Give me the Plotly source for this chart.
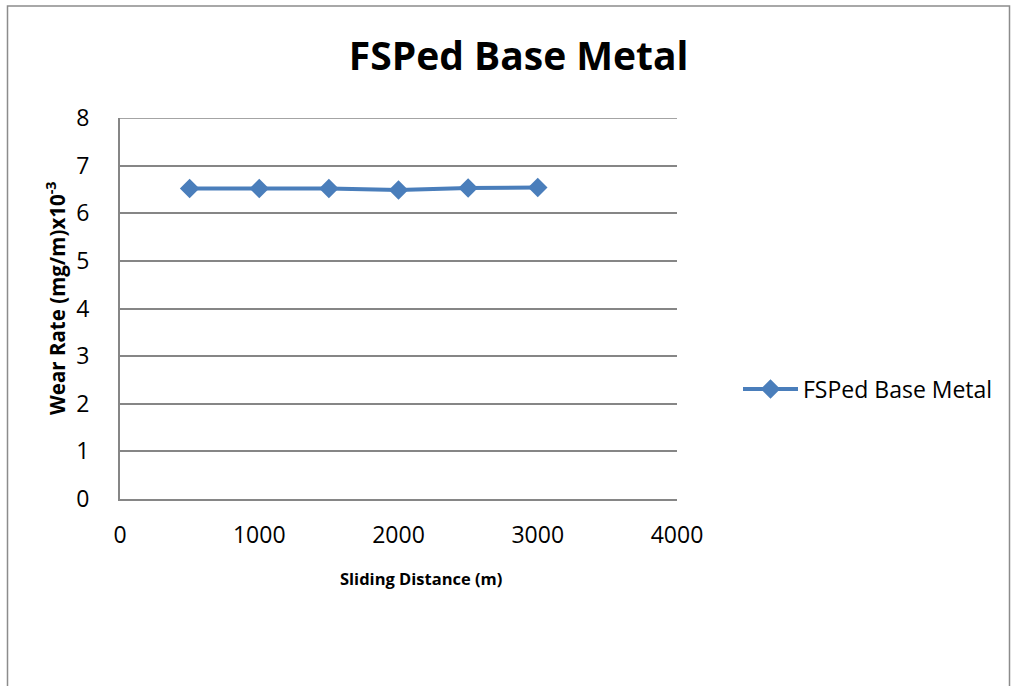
import plotly.graph_objects as go

distance = [500, 1000, 1500, 2000, 2500, 3000]
wear_rate = [6.52, 6.52, 6.52, 6.49, 6.53, 6.54]
series_name = "FSPed Base Metal"
x_ticks = [0, 1000, 2000, 3000, 4000]
y_ticks = [0, 1, 2, 3, 4, 5, 6, 7, 8]

W, H = 1011, 686
L, R, T, B = 120, 677, 118, 499
pw, ph = R - L, B - T

def px(xp):
    return (xp - L) / pw

def py(yp):
    return (B - yp) / ph

FONT = "Open Sans"
GRID = "#868686"

fig = go.Figure()
fig.add_trace(go.Scatter(
    x=distance, y=wear_rate, mode="lines+markers", name=series_name,
    line=dict(color="#4A7EBB", width=4),
    marker=dict(symbol="diamond", size=15, color="#4A7EBB"),
))

fig.update_layout(
    width=W, height=H,
    margin=dict(l=L, r=W - R, t=T, b=H - B),
    paper_bgcolor="white", plot_bgcolor="white",
    font=dict(family=FONT, color="black", size=18),
    title=dict(text="<b>FSPed Base Metal</b>", x=0.513, xref="container", xanchor="center",
               y=1 - 56 / H, yref="container", yanchor="middle",
               font=dict(size=39, family=FONT, color="black")),
    showlegend=True,
    legend=dict(x=px(738), y=py(389), xanchor="left", yanchor="middle", itemwidth=55,
                font=dict(size=23, family=FONT), bgcolor="rgba(0,0,0,0)"),
    xaxis=dict(range=[min(x_ticks), max(x_ticks)], tickvals=x_ticks, showgrid=False, zeroline=False,
               showline=True, linecolor=GRID, linewidth=2, ticks="",
               tickfont=dict(size=23), ticklabelstandoff=14),
    yaxis=dict(range=[min(y_ticks), max(y_ticks)], tickvals=y_ticks, showgrid=True, gridcolor=GRID, gridwidth=1.5,
               zeroline=False, showline=True, linecolor=GRID, linewidth=2, ticks="",
               tickfont=dict(size=23), ticklabelstandoff=24),
)

# top gridline at the upper end of the value axis
fig.add_shape(type="line", xref="paper", yref="y", x0=0, x1=1,
              y0=max(y_ticks), y1=max(y_ticks), line=dict(color=GRID, width=1.5))

# axis titles
fig.add_annotation(text="<b>Sliding Distance (m)</b>", xref="paper", yref="paper",
                   x=px(421), y=py(578), xanchor="center", yanchor="middle",
                   showarrow=False, font=dict(size=16.5, family=FONT, color="black"))
fig.add_annotation(text="<b>Wear Rate (mg/m)x10<sup>-3</sup></b>", xref="paper", yref="paper",
                   x=px(56), y=py(298), xanchor="center", yanchor="middle", textangle=-90,
                   showarrow=False, font=dict(size=20.5, family=FONT, color="black"))

# chart-area border
fig.add_shape(type="rect", xref="paper", yref="paper",
              x0=px(7.5), x1=px(1009.5), y0=py(720), y1=py(6),
              line=dict(color="#8c8c8c", width=1.5), fillcolor="rgba(0,0,0,0)", layer="below")

fig.write_html("out.html")
